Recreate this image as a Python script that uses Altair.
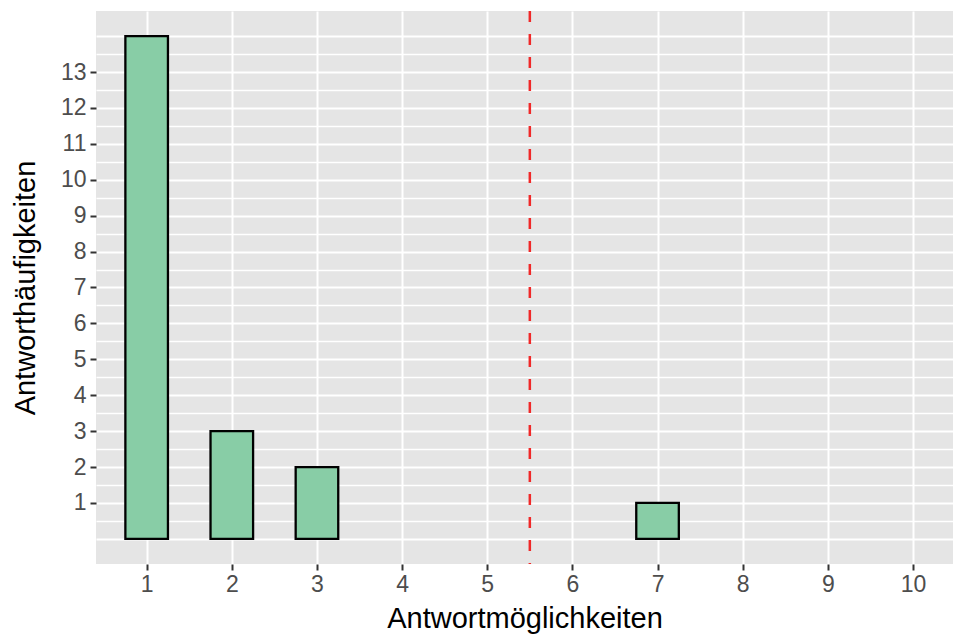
import altair as alt
import pandas as pd

# Data
antworten = [1, 2, 3, 7]
haeufigkeit = [14, 3, 2, 1]
schwelle = [5.5]
x_ticks = list(range(1, 11))
y_labels = list(range(1, 14))
y_grid = [i / 2 for i in range(0, 29)]

bars_df = pd.DataFrame({"antwort": antworten, "n": haeufigkeit})
line_df = pd.DataFrame({"x": schwelle})

FONT = "Liberation Sans"

x_scale = alt.Scale(domain=[0.405, 10.47], nice=False, zero=False)
y_scale = alt.Scale(domain=[-0.7, 14.7], nice=False, zero=False)

label_test = "datum.value % 1 === 0 && datum.value >= 1 && datum.value <= 13"

x_axis = alt.Axis(
    values=x_ticks,
    format="d",
    title="Antwortmöglichkeiten",
    grid=True, gridColor="white", gridWidth=2,
    domain=False,
    tickColor="#333333", tickSize=6, tickWidth=2,
    labelColor="#4D4D4D", labelFontSize=23, labelFont=FONT, labelPadding=3,
    titleColor="black", titleFontSize=29, titleFont=FONT, titleFontWeight="normal",
    titlePadding=8,
)

y_axis = alt.Axis(
    values=y_grid,
    title="Antworthäufigkeiten",
    grid=True, gridColor="white",
    gridWidth={"condition": {"test": "datum.value % 1 === 0", "value": 2}, "value": 1.4},
    domain=False,
    tickColor="#333333", tickSize=6, tickWidth=2,
    tickOpacity={"condition": {"test": label_test, "value": 1}, "value": 0},
    labelExpr="(" + label_test + ") ? format(datum.value, 'd') : ''",
    labelColor="#4D4D4D", labelFontSize=23, labelFont=FONT, labelPadding=4,
    labelOverlap=False,
    titleColor="black", titleFontSize=29, titleFont=FONT, titleFontWeight="normal",
    titlePadding=20,
)

bars = alt.Chart(bars_df).transform_calculate(
    x0="datum.antwort - 0.25", x1="datum.antwort + 0.25"
).mark_bar(fill="#88CDA6", stroke="black", strokeWidth=2.3).encode(
    x=alt.X("x0:Q", scale=x_scale, axis=x_axis),
    x2="x1:Q",
    y=alt.Y("n:Q", scale=y_scale, axis=y_axis),
    y2=alt.datum(0),
)

rule = alt.Chart(line_df).mark_rule(
    color="#F02828", strokeWidth=2.5, strokeDash=[11, 12]
).encode(x=alt.X("x:Q", scale=x_scale))

chart = alt.layer(bars, rule).properties(
    width=857, height=553,
    autosize=alt.AutoSizeParams(type="none"),
    padding={"left": 96, "top": 11, "right": 0, "bottom": 75},
).configure_view(fill="#E5E5E5", stroke=None)

chart.save("out.html", embed_options={"renderer": "svg", "actions": False})
